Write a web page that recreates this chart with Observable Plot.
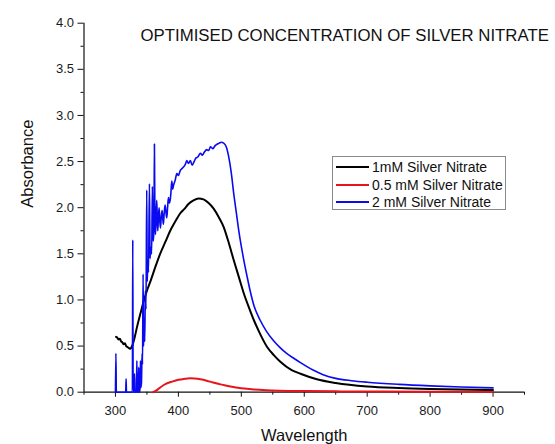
<!DOCTYPE html>
<html>
<head>
<meta charset="utf-8">
<script src="https://cdn.jsdelivr.net/npm/d3@7"></script>
<script src="https://cdn.jsdelivr.net/npm/@observablehq/plot@0.6"></script>
<style>
  html, body { margin: 0; padding: 0; background: #fff; }
  #wrap { position: relative; width: 555px; height: 444px; font-family: "Liberation Sans", Arial, sans-serif; }
  #legend { position: absolute; left: 332px; top: 156px; width: 172px; height: 52px; border: 1px solid #8a8a8a; background: #fff; }
  .row { position: absolute; left: 0; height: 18px; display: flex; align-items: center; font-size: 14px; color: #111; white-space: nowrap; }
  .sw { width: 33px; height: 0; border-top: 2px solid; margin-left: 3px; margin-right: 3px; }
</style>
</head>
<body>
<div id="wrap"></div>
<script>
// ---- data ----
const seriesNames = ["1mM Silver Nitrate", "0.5 mM Silver Nitrate", "2 mM Silver Nitrate"];
const seriesColors = ["#000000", "#e8141c", "#0a0af0"];

const blackWl = [301,303,305,307,309,311,313,315,317,319,321,323,325,327,330,334,340,345,350,356,363,371,380,387,395,403,410,416,424,432,440,448,456,464,472,480,488,496,504,512,520,530,541,552,562,580,594,620,650,700,750,800,850,900];
const blackAbs = [0.60,0.59,0.57,0.58,0.55,0.54,0.52,0.53,0.50,0.49,0.48,0.47,0.48,0.51,0.58,0.70,0.86,0.99,1.10,1.21,1.35,1.50,1.64,1.75,1.85,1.94,1.99,2.04,2.08,2.10,2.09,2.05,1.99,1.90,1.79,1.62,1.43,1.25,1.07,0.92,0.78,0.63,0.49,0.40,0.33,0.24,0.20,0.14,0.10,0.062,0.045,0.035,0.029,0.025];

const redWl = [360,365,370,375,380,390,400,410,418,426,435,445,455,465,475,485,500,520,540,560,600,650,700,800,900];
const redAbs = [0.0,0.02,0.045,0.07,0.09,0.115,0.135,0.145,0.15,0.148,0.14,0.125,0.105,0.088,0.072,0.058,0.043,0.03,0.022,0.017,0.012,0.009,0.008,0.006,0.005];

const blueWl = [300,300.7,301.4,316.3,316.9,317.5,326.9,327.5,328.1,329,
  329.7,330.3,331,333.3,334,334.7,336.3,337,337.7,339,
  339.7,340.3,341.3,342.3,343,343.9,344.6,345.5,346.5,347.5,
  348.5,349.7,350.5,351.3,352.5,354,355,356,357.5,358.7,
  359.5,360.3,361.2,361.9,362.7,363.5,364.5,365.6,366.4,367.2,
  368.3,369.4,370.5,371.5,372.8,374.1,375.2,376.2,377.5,378.9,
  380.2,381.5,382.8,384.2,385.5,386.9,388,389.5,391,392.2,
  395,397.5,400,402.8,405,408,411,413.4,416,419,
  422,425,428,431,435,438,441,445,448,451,
  455,458,462,465,468,472,476,480,484,488,
  492,496,500,504,509,514,520,530,540,551,
  562,572,585,594,614,630,650,675,700,750,
  800,850,900];
const blueAbs = [0,0.42,0,0,0.145,0,0,1.65,0,0,
  0.12,0.2,0,0,0.34,0,0,0.27,0,0,
  0.34,0.05,0.1,0.42,0.3,1.28,0.5,0.8,0.55,1.1,
  0.9,2.19,1.2,1.43,1.3,2.26,1.45,1.57,1.5,2.23,
  1.7,1.64,1.8,2.69,1.9,1.71,1.85,2.08,1.9,1.75,
  1.9,2.0,1.85,1.78,1.9,1.97,1.88,1.82,1.95,2.03,
  1.95,1.89,2.0,2.11,2.05,2.08,2.15,2.29,2.2,2.24,
  2.3,2.37,2.35,2.4,2.42,2.44,2.47,2.51,2.48,2.51,
  2.46,2.5,2.54,2.55,2.59,2.57,2.6,2.63,2.62,2.66,
  2.64,2.67,2.69,2.7,2.71,2.7,2.66,2.55,2.38,2.15,
  1.95,1.75,1.58,1.43,1.26,1.1,0.94,0.78,0.66,0.56,
  0.48,0.42,0.36,0.32,0.24,0.19,0.15,0.125,0.108,0.085,
  0.069,0.057,0.047];

const xMajor = [300,400,500,600,700,800,900];
const xMinor = [250,350,450,550,650,750,850,950];
const yMajor = [0,0.5,1.0,1.5,2.0,2.5,3.0,3.5,4.0];
const yMinor = [0.25,0.75,1.25,1.75,2.25,2.75,3.25,3.75];

const titleText = "OPTIMISED CONCENTRATION OF SILVER NITRATE";
const xLabel = "Wavelength";
const yLabel = "Absorbance";

// ---- build tables ----
const toRows = (wl, ab) => wl.map((w, i) => ({wl: w, a: ab[i]}));
const black = toRows(blackWl, blackAbs);
const red = toRows(redWl, redAbs);
const blue = toRows(blueWl, blueAbs);

const font = "'Liberation Sans', Arial, sans-serif";

const chart = Plot.plot({
  width: 555,
  height: 444,
  marginLeft: 83.5,
  marginRight: 31,
  marginTop: 22.7,
  marginBottom: 52.3,
  style: {fontFamily: font, fontSize: "13px", color: "#1a1a1a", background: "#fff", overflow: "visible"},
  x: {domain: [250, 950]},
  y: {domain: [0, 4]},
  marks: [
    Plot.axisX({ticks: xMajor, tickSize: 5, tickPadding: 9, fontSize: 13, label: null, stroke: "#111"}),
    Plot.axisX({ticks: xMinor, tickSize: 3, text: null, label: null, stroke: "#111"}),
    Plot.axisY({ticks: yMajor, tickSize: 6, tickPadding: 4, tickFormat: d3.format(".1f"), fontSize: 13, label: null, stroke: "#111"}),
    Plot.axisY({ticks: yMinor, tickSize: 3, text: null, label: null, stroke: "#111"}),
    Plot.ruleY([0], {stroke: "#111", strokeWidth: 1.2}),
    Plot.ruleX([250], {stroke: "#111", strokeWidth: 1.2}),
    Plot.line(red, {x: "wl", y: "a", stroke: seriesColors[1], strokeWidth: 2, curve: "monotone-x"}),
    Plot.line(black, {x: "wl", y: "a", stroke: seriesColors[0], strokeWidth: 2, curve: "monotone-x"}),
    Plot.line(blue, {x: "wl", y: "a", stroke: seriesColors[2], strokeWidth: 1.6, curve: "monotone-x"}),
    Plot.text([titleText], {frameAnchor: "top-left", textAnchor: "start", lineAnchor: "top", dx: 56.5, dy: 6.3, fontSize: 16.8, fill: "#111"}),
    Plot.text([xLabel], {frameAnchor: "bottom", lineAnchor: "middle", dy: 43.7, fontSize: 16.5, fill: "#111"}),
    Plot.text([yLabel], {frameAnchor: "left", rotate: -90, dx: -56.5, fontSize: 16.5, fill: "#111"})
  ]
});

const wrap = document.getElementById("wrap");
wrap.appendChild(chart);

const legend = document.createElement("div");
legend.id = "legend";
seriesNames.forEach((name, i) => {
  const row = document.createElement("div");
  row.className = "row";
  row.style.top = (1 + i * 17.5) + "px";
  const sw = document.createElement("span");
  sw.className = "sw";
  sw.style.borderColor = seriesColors[i];
  const t = document.createElement("span");
  t.textContent = name;
  row.appendChild(sw);
  row.appendChild(t);
  legend.appendChild(row);
});
wrap.appendChild(legend);
</script>
</body>
</html>
